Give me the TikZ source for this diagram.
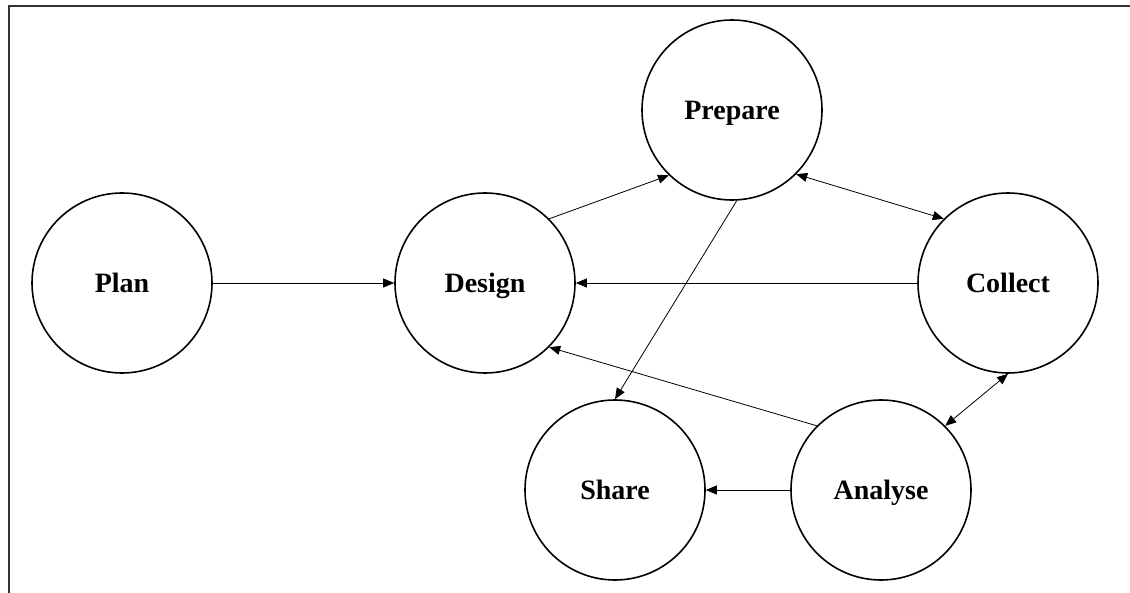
\documentclass[tikz,border=0pt]{standalone}
\usepackage{fontspec}
\setmainfont{Liberation Serif}
\usetikzlibrary{arrows.meta}
\begin{document}
\begin{tikzpicture}[x=1pt,y=-1pt,
  stage/.style={circle,draw,line width=1.6pt,minimum size=180pt,inner sep=0pt,
    text height=19pt,text depth=0pt,
    font=\fontsize{28}{32}\selectfont\bfseries},
  flow/.style={line width=0.8pt,-{Triangle[length=11pt,width=9pt]}},
  both/.style={line width=0.8pt,{Triangle[length=11pt,width=9pt]}-{Triangle[length=11pt,width=9pt]}}]
\useasboundingbox (0,0) rectangle (1130,593);
\draw[line width=2pt,black!80] (8.5,593) -- (8.5,6.5) -- (1130,6.5);
\node[stage] (plan) at (122,283) {Plan};
\node[stage] (design) at (485,283) {Design};
\node[stage] (prepare) at (732,110) {Prepare};
\node[stage] (collect) at (1008,283) {Collect};
\node[stage] (share) at (615,490) {Share};
\node[stage] (analyse) at (881,490) {Analyse};
\draw[flow] (plan) -- (design);
\draw[flow] (design.45) -- (prepare.226);
\draw[both] (prepare.-45) -- (collect.135);
\draw[flow] (collect) -- (design);
\draw[flow] (prepare.-87) -- (share.north);
\draw[flow] (analyse.135) -- (design.-45);
\draw[both] (collect.south) -- (analyse.45);
\draw[flow] (analyse) -- (share);
\end{tikzpicture}
\end{document}
